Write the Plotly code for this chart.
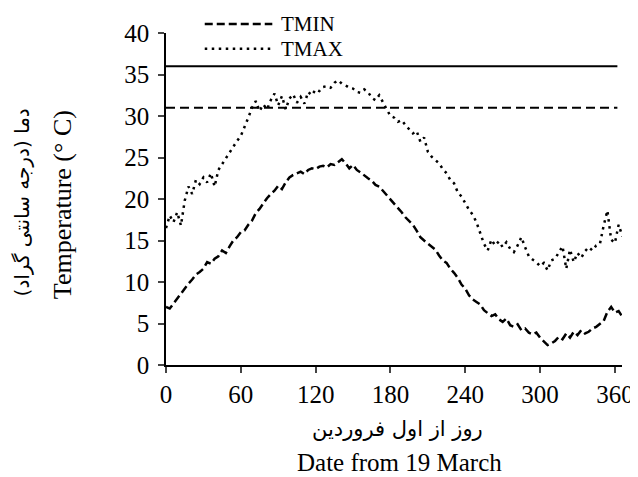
import plotly.graph_objects as go

# Day from 19 March (sampled every 3 days)
days = list(range(0, 367, 3))

tmin = [7.0, 6.8, 7.4, 8.0, 8.6, 9.3, 9.8, 10.3, 10.9, 11.2,
        11.6, 12.4, 12.2, 12.8, 13.1, 13.8, 13.5, 14.3, 15.0, 15.4,
        16.0, 16.2, 16.9, 17.4, 18.3, 18.8, 19.5, 20.1, 20.6, 21.0,
        21.6, 21.2, 22.0, 22.6, 22.9, 23.1, 23.3, 23.0, 23.5, 23.7,
        23.6, 23.9, 24.0, 23.8, 24.2, 24.1, 24.4, 24.8, 24.3, 23.7,
        24.1, 23.5, 23.2, 22.8, 22.5, 22.2, 21.7, 21.5, 21.0, 20.5,
        20.0, 19.4, 19.0, 18.4, 17.8, 17.3, 16.9, 16.2, 15.4, 15.0,
        14.6, 14.3, 13.9, 13.2, 12.6, 12.3, 11.6, 11.1, 10.5, 9.7,
        9.2, 8.4, 7.9, 7.6, 7.3, 6.6, 6.3, 5.9, 6.1, 5.5,
        5.2, 5.6, 4.8, 4.6, 4.9, 4.2, 4.4, 3.9, 3.7, 3.9,
        3.3, 2.9, 2.4, 2.6, 2.9, 3.4, 3.1, 3.8, 3.3, 4.0,
        3.6, 4.2, 3.8, 4.0, 4.4, 4.6, 4.9, 5.3, 6.4, 7.0,
        6.3, 6.5, 5.8]

tmax = [16.5, 18.0, 17.2, 18.4, 16.8, 19.8, 21.5, 20.6, 22.3, 21.8,
        22.6, 22.0, 23.1, 21.5, 23.5, 24.2, 25.0, 25.7, 26.4, 27.0,
        27.6, 28.6, 29.8, 31.0, 31.8, 30.6, 31.4, 30.8, 31.9, 32.7,
        31.3, 32.4, 30.8, 32.1, 32.6, 31.6, 32.3, 31.5, 32.9, 32.5,
        33.2, 33.0, 33.5, 33.6, 33.4, 34.0, 34.3, 33.9, 33.7, 33.4,
        33.3, 32.9, 32.8, 33.2, 32.9, 32.2, 31.9, 32.5, 31.6, 30.8,
        30.0, 29.8, 29.3, 29.5, 28.9, 28.4, 27.9, 28.2, 26.9, 27.4,
        25.7, 25.1, 24.7, 24.3, 23.6, 23.1, 22.3, 21.9, 20.8, 20.3,
        19.5, 18.7, 18.1, 17.2, 15.9, 14.6, 13.8, 15.1, 14.4, 14.9,
        14.2, 14.8, 14.0, 13.6, 14.4, 15.4, 14.2, 13.1, 12.7, 12.4,
        11.9, 12.3, 11.4, 12.6, 12.8, 13.6, 14.3, 11.6, 13.9, 12.4,
        13.5, 12.9, 13.7, 14.2, 13.8, 14.4, 14.6, 16.8, 18.6, 15.1,
        14.7, 16.9, 15.5]

ref_levels = [36, 31]
ref_days = [0, 362]

x_ticks = [0, 60, 120, 180, 240, 300, 360]
y_ticks = [0, 5, 10, 15, 20, 25, 30, 35, 40]

series_names = ["TMIN", "TMAX"]
ytitle_en = "Temperature (° C)"
ytitle_fa = "دما (درجه سانتی گراد)"
xtitle_fa = "روز از اول فروردین"
xtitle_en = "Date from 19 March"

FONT = "Liberation Serif, Times New Roman, serif"
FA_FONT = "DejaVu Sans, sans-serif"

TMIN_DASH = "8px,4px"
TMAX_DASH = "2.5px,4.5px"

fig = go.Figure()

fig.add_trace(go.Scatter(x=days, y=tmin, mode="lines", name=series_names[0],
                         showlegend=False,
                         line=dict(color="black", width=2.5, dash=TMIN_DASH)))
fig.add_trace(go.Scatter(x=days, y=tmax, mode="lines", name=series_names[1],
                         showlegend=False,
                         line=dict(color="black", width=2.5, dash=TMAX_DASH)))

# Reference threshold lines
fig.add_trace(go.Scatter(x=ref_days, y=[ref_levels[0]] * 2, mode="lines",
                         showlegend=False, line=dict(color="black", width=2)))
fig.add_trace(go.Scatter(x=ref_days, y=[ref_levels[1]] * 2, mode="lines",
                         showlegend=False, line=dict(color="black", width=2, dash="9px,5px")))

# The page body has an 8px margin; compensate so the plot lands where intended.
OFF = 8
W, H = 638, 477
L, R, T, B = 166 - OFF, 13 + OFF, 30 - OFF, 112 + OFF
pw, ph = W - L - R, H - T - B
PL, PB = 166, 365  # screen position of plot-area left / bottom


def px(xp):
    return (xp - PL) / pw


def py(yp):
    return (PB - yp) / ph


legend_y = [21, 46]
shapes = []
annots = []
for name, yy, dash in zip(series_names, legend_y, [TMIN_DASH, TMAX_DASH]):
    shapes.append(dict(type="line", xref="paper", yref="paper",
                       x0=px(205), x1=px(273), y0=py(yy), y1=py(yy),
                       line=dict(color="black", width=2.5, dash=dash)))
    annots.append(dict(text=name, x=px(281), y=py(yy), xref="paper", yref="paper",
                       showarrow=False, xanchor="left", yanchor="middle",
                       borderpad=0,
                       font=dict(size=21, family=FONT)))

annots += [
    dict(text=ytitle_en, x=px(62), y=py(203), xref="paper", yref="paper",
         textangle=-90, showarrow=False, xanchor="center", yanchor="middle",
         font=dict(size=26, family=FONT)),
    dict(text=ytitle_fa, x=px(22), y=py(201), xref="paper", yref="paper",
         textangle=-90, showarrow=False, xanchor="center", yanchor="middle",
         font=dict(size=20, family=FA_FONT)),
    dict(text=xtitle_fa, x=px(399), y=py(430), xref="paper", yref="paper",
         showarrow=False, xanchor="center", yanchor="middle",
         font=dict(size=21, family=FA_FONT)),
    dict(text=xtitle_en, x=px(401), y=py(463), xref="paper", yref="paper",
         showarrow=False, xanchor="center", yanchor="middle",
         font=dict(size=25, family=FONT)),
]

fig.update_layout(
    width=W, height=H,
    margin=dict(l=L, r=R, t=T, b=B),
    paper_bgcolor="white", plot_bgcolor="white",
    font=dict(family=FONT, size=25, color="black"),
    showlegend=False,
    xaxis=dict(range=[0, 365.7], tickvals=x_ticks, ticks="outside", ticklen=6,
               tickwidth=1.5, showline=True, linecolor="black", linewidth=1.5,
               showgrid=False, zeroline=False, tickfont=dict(size=25, family=FONT)),
    yaxis=dict(range=[0, 40], tickvals=y_ticks, ticks="outside", ticklen=6,
               tickwidth=1.5, showline=True, linecolor="black", linewidth=1.5,
               showgrid=False, zeroline=False, tickfont=dict(size=25, family=FONT),
               ticklabelstandoff=4),
    shapes=shapes,
    annotations=annots,
)

fig.write_html("out.html")
